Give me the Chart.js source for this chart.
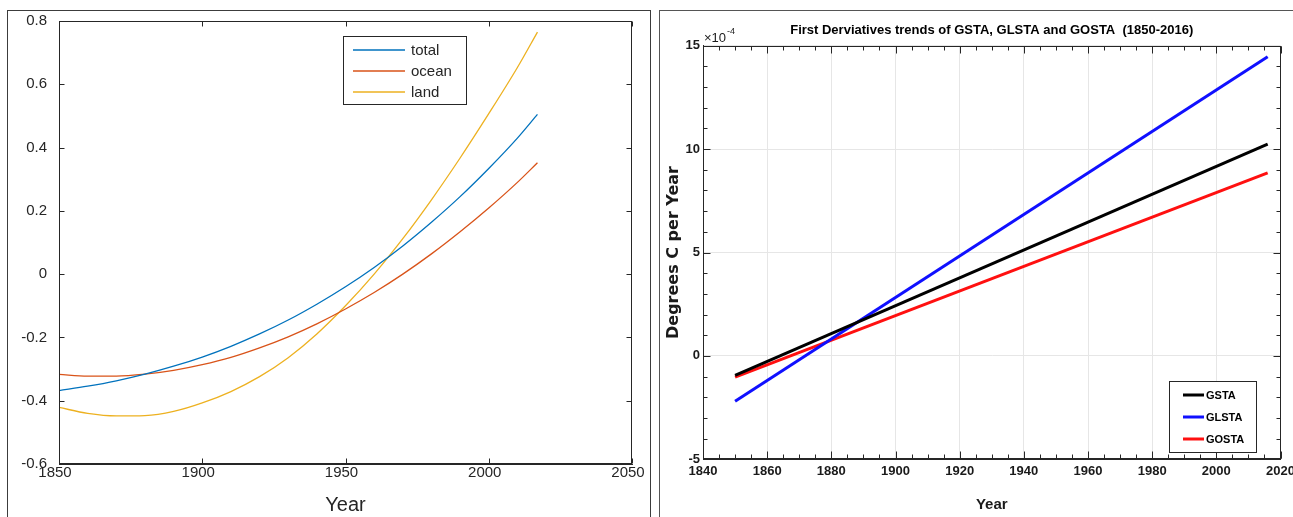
<!DOCTYPE html>
<html><head><meta charset="utf-8">
<script src="https://cdn.jsdelivr.net/npm/chart.js@4.4.1/dist/chart.umd.min.js"></script>
<style>
html,body{margin:0;padding:0;background:#fff;width:1293px;height:517px;overflow:hidden}
.frame{position:absolute;box-sizing:border-box}
#f1{left:7px;top:10px;width:644px;height:540px;border:1px solid #3c3c3c}
#f2{left:659px;top:10px;width:700px;height:540px;border:1px solid #555}
canvas{position:absolute;top:0}
#c1{left:0}
#c2{left:660px}
</style></head><body>
<div class="frame" id="f1"></div><div class="frame" id="f2"></div>
<canvas id="c1" width="660" height="517"></canvas>
<canvas id="c2" width="633" height="517"></canvas>
<script>
// ---------- Left panel data ----------
const years1 = [1850,1860,1870,1880,1890,1900,1910,1920,1930,1940,1950,1960,1970,1980,1990,2000,2010,2017];
const total  = [-0.368,-0.354,-0.337,-0.316,-0.291,-0.262,-0.228,-0.189,-0.145,-0.095,-0.040,0.021,0.089,0.164,0.245,0.334,0.430,0.505];
const ocean  = [-0.317,-0.322,-0.322,-0.316,-0.304,-0.286,-0.263,-0.233,-0.198,-0.157,-0.110,-0.058,0.000,0.064,0.134,0.209,0.290,0.352];
const land   = [-0.421,-0.440,-0.448,-0.447,-0.434,-0.407,-0.371,-0.324,-0.264,-0.189,-0.100,0.000,0.112,0.235,0.367,0.507,0.653,0.765];
const xTicks1 = [1850,1900,1950,2000,2050];
const yTicks1 = [-0.6,-0.4,-0.2,0,0.2,0.4,0.6,0.8];
const yTickLabels1 = ['-0.6','-0.4','-0.2','0','0.2','0.4','0.6','0.8'];

// ---------- Right panel data (units of 1e-4 degC/yr) ----------
const years2 = [1850,2016];
const gsta  = [-0.94,10.24];
const glsta = [-2.19,14.47];
const gosta = [-1.03,8.85];
const xTicks2 = [1840,1860,1880,1900,1920,1940,1960,1980,2000,2020];
const yTicks2 = [-5,0,5,10,15];
const xMinorStep2 = 5, yMinorStep2 = 1;

const pts = (xs, ys) => xs.map((x,i)=>({x, y: ys[i]}));
const setTicks = arr => scale => { scale.ticks = arr.map(v=>({value:v})); };

const SANS = "'Liberation Sans',Arial,sans-serif";

function drawBoxTicks(chart, o){
  const {ctx, chartArea:a, scales:{x,y}} = chart;
  ctx.save();
  ctx.strokeStyle = o.color; ctx.lineWidth = 1;
  const L=Math.round(a.left)+0.5, R=Math.round(a.right)-0.5, T=Math.round(a.top)+0.5, B=Math.round(a.bottom)-0.5;
  ctx.beginPath();
  const tx = (v,len)=>{const p=Math.round(x.getPixelForValue(v))+0.5; ctx.moveTo(p,B); ctx.lineTo(p,B-len); ctx.moveTo(p,T); ctx.lineTo(p,T+len);};
  const ty = (v,len)=>{const p=Math.round(y.getPixelForValue(v))+0.5; ctx.moveTo(L,p); ctx.lineTo(L+len,p); ctx.moveTo(R,p); ctx.lineTo(R-len,p);};
  if(o.xMinor){ for(let v=x.min; v<=x.max+1e-9; v+=o.xMinor) tx(v,o.minLen); }
  if(o.yMinor){ for(let v=y.min; v<=y.max+1e-9; v+=o.yMinor) ty(v,o.minLen); }
  x.ticks.forEach(t=>tx(t.value,o.majLen));
  y.ticks.forEach(t=>ty(t.value,o.majLen));
  ctx.stroke();
  ctx.strokeRect(L,T,R-L,B-T);
  ctx.restore();
}

function drawLegend(chart, o){
  const {ctx} = chart;
  ctx.save();
  ctx.fillStyle='#fff'; ctx.fillRect(o.x+0.5,o.y+0.5,o.w,o.h);
  ctx.strokeStyle=o.border; ctx.lineWidth=1; ctx.strokeRect(o.x+0.5,o.y+0.5,o.w,o.h);
  ctx.font=o.font; ctx.textBaseline='middle'; ctx.textAlign='left'; ctx.fillStyle=o.textColor;
  chart.data.datasets.forEach((d,i)=>{
    const yy=o.rowY[i];
    ctx.strokeStyle=d.borderColor; ctx.lineWidth=o.lineW;
    ctx.beginPath(); ctx.moveTo(o.lx0,yy); ctx.lineTo(o.lx1,yy); ctx.stroke();
    ctx.fillText(d.label,o.tx,yy+0.5);
  });
  ctx.restore();
}

// ---------- Left chart ----------
new Chart(document.getElementById('c1'), {
  type:'line',
  data:{datasets:[
    {label:'total', data:pts(years1,total), borderColor:'#0072BD', borderWidth:1.3, pointRadius:0, cubicInterpolationMode:'monotone', fill:false},
    {label:'ocean', data:pts(years1,ocean), borderColor:'#D95319', borderWidth:1.3, pointRadius:0, cubicInterpolationMode:'monotone', fill:false},
    {label:'land',  data:pts(years1,land),  borderColor:'#EDB120', borderWidth:1.3, pointRadius:0, cubicInterpolationMode:'monotone', fill:false}
  ]},
  options:{
    responsive:false, animation:false, events:[],
    layout:{padding:{left:0,right:28,top:21,bottom:0}},
    plugins:{legend:{display:false}, tooltip:{enabled:false}, title:{display:false}},
    scales:{
      x:{type:'linear', min:1850, max:2050,
         afterBuildTicks:setTicks(xTicks1),
         afterFit:s=>{s.height=53; s.paddingLeft=0; s.paddingRight=0;},
         grid:{display:false, drawTicks:false}, border:{display:true,color:'#262626'},
         ticks:{font:{family:SANS,size:15}, color:'#262626', padding:0, labelOffset:-4, maxRotation:0, autoSkip:false,
           callback:v=>String(v)},
         title:{display:true, text:'Year', font:{family:SANS,size:20}, color:'#262626', padding:{top:0,bottom:0}}},
      y:{type:'linear', min:-0.6, max:0.8,
         afterBuildTicks:setTicks(yTicks1),
         afterFit:s=>{s.width=59; s.paddingTop=0; s.paddingBottom=0;},
         grid:{display:false, drawTicks:false}, border:{display:true,color:'#262626'},
         ticks:{font:{family:SANS,size:15}, color:'#262626', padding:12, autoSkip:false,
           callback:(v)=>{const i=yTicks1.findIndex(t=>Math.abs(t-v)<1e-9); return i>=0?yTickLabels1[i]:'';}}}
    }
  },
  plugins:[{id:'box1', afterDraw(chart){
    drawBoxTicks(chart,{color:'#262626', majLen:5});
    drawLegend(chart,{x:343,y:36,w:123,h:68,border:'#262626',font:"15px "+SANS,textColor:'#262626',
      rowY:[50,71,92], lx0:353, lx1:405, tx:411, lineW:1.3});
  }}]
});

// ---------- Right chart ----------
new Chart(document.getElementById('c2'), {
  type:'line',
  data:{datasets:[
    {label:'GSTA',  data:pts(years2,gsta),  borderColor:'#000000', borderWidth:3, pointRadius:0, fill:false},
    {label:'GLSTA', data:pts(years2,glsta), borderColor:'#1010ff', borderWidth:3, pointRadius:0, fill:false},
    {label:'GOSTA', data:pts(years2,gosta), borderColor:'#ff1010', borderWidth:3, pointRadius:0, fill:false}
  ]},
  options:{
    responsive:false, animation:false, events:[],
    layout:{padding:{left:0,right:12.5,top:0,bottom:0}},
    plugins:{legend:{display:false}, tooltip:{enabled:false},
      title:{display:true, fullSize:false, text:'First Derviatives trends of GSTA, GLSTA and GOSTA  (1850-2016)',
        font:{family:SANS, size:13, weight:'bold'}, color:'#000', padding:{top:23,bottom:7.1}}},
    scales:{
      x:{type:'linear', min:1840, max:2020,
         afterBuildTicks:setTicks(xTicks2),
         afterFit:s=>{s.height=57.7; s.paddingLeft=0; s.paddingRight=0;},
         grid:{color:'#e6e6e6', drawTicks:false}, border:{display:true,color:'#262626'},
         ticks:{font:{family:SANS,size:13,weight:'bold'}, color:'#1a1a1a', padding:4, maxRotation:0, autoSkip:false,
           callback:v=>String(v)},
         title:{display:true, text:'Year', font:{family:SANS,size:15,weight:'bold'}, color:'#1a1a1a', padding:{top:0,bottom:3}}},
      y:{type:'linear', min:-5, max:15,
         afterBuildTicks:setTicks(yTicks2),
         afterFit:s=>{s.width=43; s.paddingTop=0; s.paddingBottom=0;},
         grid:{color:'#e6e6e6', drawTicks:false}, border:{display:true,color:'#262626'},
         ticks:{font:{family:SANS,size:13,weight:'bold'}, color:'#1a1a1a', padding:3, autoSkip:false,
           callback:v=>String(v)},
         title:{display:true, text:'Degrees C per Year', font:{family:"'DejaVu Sans',sans-serif",size:16,weight:'bold'}, color:'#1a1a1a', padding:{top:4.5,bottom:0}}}
    }
  },
  plugins:[{id:'box2', afterDraw(chart){
    drawBoxTicks(chart,{color:'#262626', majLen:7, minLen:4, xMinor:xMinorStep2, yMinor:yMinorStep2});
    const ctx=chart.ctx, a=chart.chartArea;
    ctx.save(); ctx.fillStyle='#1a1a1a'; ctx.textBaseline='alphabetic'; ctx.textAlign='left';
    ctx.font="13px "+SANS; const w=ctx.measureText('\u00d710').width;
    ctx.fillText('\u00d710', a.left+1, a.top-4);
    ctx.font="9px "+SANS; ctx.fillText('-4', a.left+1+w+1, a.top-12);
    ctx.restore();
    drawLegend(chart,{x:509,y:381,w:87,h:71,border:'#262626',font:"bold 11px "+SANS,textColor:'#000',
      rowY:[395,417,439], lx0:523, lx1:544, tx:546, lineW:3});
  }}]
});
</script>
</body></html>
